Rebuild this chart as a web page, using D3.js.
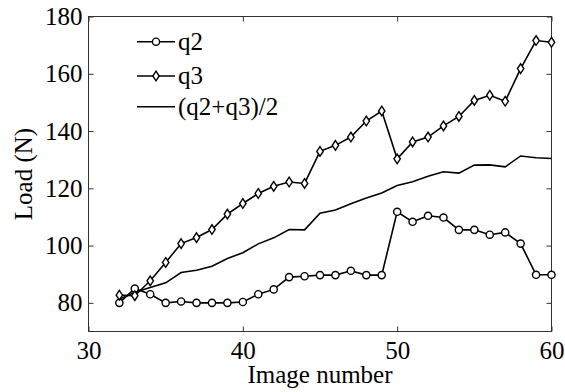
<!DOCTYPE html>
<html><head><meta charset="utf-8">
<script src="https://cdn.jsdelivr.net/npm/d3@7"></script>
<style>body{margin:0;background:#fff}svg{display:block}svg text{font-family:"Liberation Serif","DejaVu Serif",serif !important;fill:#000}</style>
</head><body>
<script>
const imageNumbers = [32,33,34,35,36,37,38,39,40,41,42,43,44,45,46,47,48,49,50,51,52,53,54,55,56,57,58,59,60];
const q2 = [80,85,83,80,80.5,80,80,80,80.3,83,84.7,89,89.3,89.7,89.7,91.2,89.7,89.7,111.8,108.3,110.4,109.8,105.5,105.5,103.8,104.6,100.7,89.8,89.8];
const q3 = [82.7,82.5,87.7,94.1,100.7,102.8,105.6,111,114.7,118.2,120.7,122.2,121.7,132.9,135,137.9,143.5,147,130.3,136.2,137.9,141.8,145.1,150.7,152.5,150.4,161.8,171.6,171];
const avg = [81.3,83.7,85.4,87,90.6,91.4,92.8,95.5,97.5,100.6,102.7,105.6,105.5,111.3,112.4,114.6,116.6,118.4,121,122.3,124.2,125.8,125.3,128.1,128.2,127.5,131.3,130.7,130.4];
const xTicks = [30,40,50,60];
const yTicks = [80,100,120,140,160,180];
const legendLabels = ["q2","q3","(q2+q3)/2"];

const W=565,H=392, L=88.5, R=551.5, T=16.5, B=331.5;
const svg=d3.select("body").append("svg").attr("width",W).attr("height",H);
const x=d3.scaleLinear().domain([30,60]).range([L,R]);
const y=d3.scaleLinear().domain([70,180]).range([B,T]);
const fs=25;
const FF='"Liberation Serif","DejaVu Serif",serif';

svg.append("rect").attr("x",L).attr("y",T).attr("width",R-L).attr("height",B-T)
  .attr("fill","none").attr("stroke","#333").attr("stroke-width",1);

const tl=5;
const gx=svg.append("g").attr("transform",`translate(0,${B})`)
  .call(d3.axisBottom(x).tickValues(xTicks).tickSizeInner(-tl).tickSizeOuter(0).tickPadding(10));
const gxt=svg.append("g").attr("transform",`translate(0,${T})`)
  .call(d3.axisTop(x).tickValues(xTicks).tickSizeInner(-tl).tickSizeOuter(0).tickFormat(""));
const gy=svg.append("g").attr("transform",`translate(${L},0)`)
  .call(d3.axisLeft(y).tickValues(yTicks).tickSizeInner(-tl).tickSizeOuter(0).tickPadding(6));
const gyr=svg.append("g").attr("transform",`translate(${R},0)`)
  .call(d3.axisRight(y).tickValues(yTicks).tickSizeInner(-tl).tickSizeOuter(0).tickFormat(""));
[gx,gxt,gy,gyr].forEach(g=>{
  g.attr("font-family",FF).attr("font-size",fs);
  g.select(".domain").remove();
  g.selectAll("line").attr("stroke","#333");
  g.selectAll("text").attr("font-size",fs).style("font-family",FF);
});
gx.selectAll("text").attr("dy","0.7em");

svg.append("text").attr("x",(L+R)/2).attr("y",383).attr("text-anchor","middle")
  .attr("font-size",fs).style("font-family",FF).text("Image number");
svg.append("text").attr("transform",`translate(32,${(T+B)/2}) rotate(-90)`)
  .attr("text-anchor","middle").attr("font-size",fs).style("font-family",FF).text("Load (N)");

const line=d3.line().x((d,i)=>x(imageNumbers[i])).y(d=>y(d));
const plot=svg.append("g");
plot.append("path").datum(avg).attr("d",line).attr("fill","none").attr("stroke","#000").attr("stroke-width",1.6);
plot.append("path").datum(q2).attr("d",line).attr("fill","none").attr("stroke","#000").attr("stroke-width",1.6);
plot.append("path").datum(q3).attr("d",line).attr("fill","none").attr("stroke","#000").attr("stroke-width",1.6);

const diamond="M0,-4.8L3.2,0L0,4.8L-3.2,0Z";
plot.selectAll("circle.q2").data(q2).enter().append("circle")
  .attr("cx",(d,i)=>x(imageNumbers[i])).attr("cy",d=>y(d)).attr("r",3.6)
  .attr("fill","#fff").attr("stroke","#000").attr("stroke-width",1.4);
plot.selectAll("path.q3").data(q3).enter().append("path").attr("class","q3")
  .attr("transform",(d,i)=>`translate(${x(imageNumbers[i])},${y(d)})`).attr("d",diamond)
  .attr("fill","#fff").attr("stroke","#000").attr("stroke-width",1.4);

const lg=svg.append("g");
const rows=[41.7,76,106.7];
legendLabels.forEach((lab,i)=>{
  lg.append("line").attr("x1",137).attr("x2",175).attr("y1",rows[i]).attr("y2",rows[i])
    .attr("stroke","#000").attr("stroke-width",1.6);
  if(i===0) lg.append("circle").attr("cx",156).attr("cy",rows[i]).attr("r",3.6)
    .attr("fill","#fff").attr("stroke","#000").attr("stroke-width",1.4);
  if(i===1) lg.append("path").attr("transform",`translate(156,${rows[i]})`).attr("d",diamond)
    .attr("fill","#fff").attr("stroke","#000").attr("stroke-width",1.4);
  lg.append("text").attr("x",178).attr("y",rows[i]).attr("dy","0.33em").attr("font-size",fs)
    .style("font-family",FF).text(lab);
});
</script>
</body></html>
